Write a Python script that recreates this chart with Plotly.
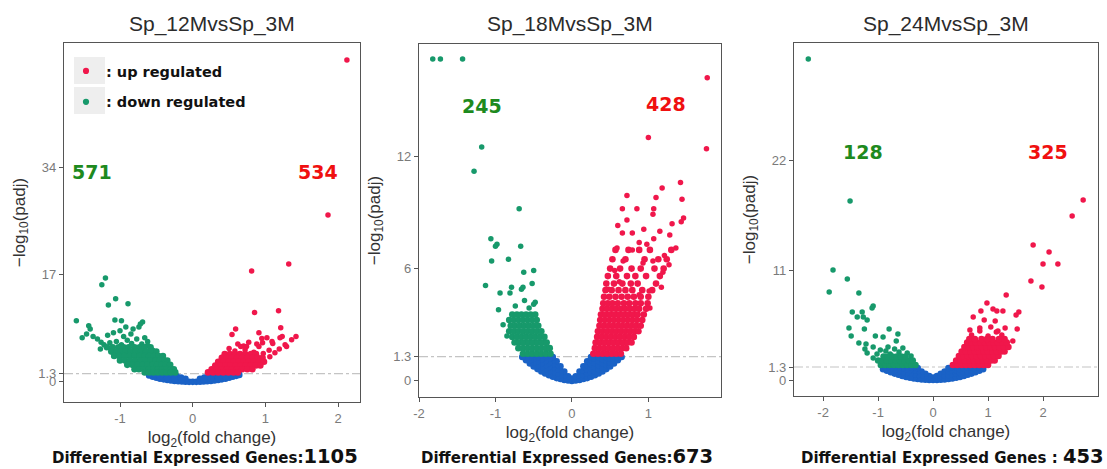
import plotly.graph_objects as go

W, H = 1107, 469

titles = ["Sp_12MvsSp_3M", "Sp_18MvsSp_3M", "Sp_24MvsSp_3M"]
deg_labels = ["Differential Expressed Genes:", "Differential Expressed Genes:", "Differential Expressed Genes : "]
deg_totals = [1105, 673, 453]
down_counts = [571, 245, 128]
up_counts = [534, 428, 325]
threshold = 1.3
xticks = [[-1, 0, 1, 2], [-2, -1, 0, 1], [-2, -1, 0, 1, 2]]
yticks = [[0, 1.3, 17, 34], [0, 1.3, 6, 12], [0, 1.3, 11, 22]]
xranges = [[-1.77, 2.30], [-2.0, 1.95], [-2.53, 3.0]]
yranges = [[-3.2, 53.8], [-0.86, 18.0], [-1.6, 33.7]]

# ---------- Panel 1 : Sp_12M vs Sp_3M ----------
p1_up_pts = [(2.12, 51.1), (1.86, 26.5), (1.32, 18.7), (0.81, 17.6), (1.18, 11.3), (0.85, 11.0),
             (0.59, 8.4), (1.21, 8.6), (1.42, 7.2), (1.23, 7.2), (1.36, 6.7), (0.54, 7.5), (0.91, 7.8),
             (1.02, 7.0), (0.95, 6.9), (0.77, 6.3), (0.88, 6.0), (1.10, 6.1), (1.19, 5.2), (1.29, 5.6),
             (0.70, 5.7), (1.05, 5.0), (0.97, 4.5), (1.20, 7.0), (1.27, 5.9), (1.06, 4.0), (0.91, 5.6),
             (0.74, 5.6), (0.96, 6.2), (1.09, 6.4), (1.13, 4.6), (0.62, 6.0),
             (0.50, 5.3), (0.58, 4.9), (0.66, 5.6), (0.72, 5.1), (0.84, 4.7)]
p1_up_rows = [(4.4, [0.44, 0.51, 0.58, 0.65, 0.72, 0.80, 0.87]),
              (3.8, [0.40, 0.47, 0.54, 0.61, 0.68, 0.75, 0.82, 0.89, 0.96]),
              (3.2, [0.35, 0.42, 0.49, 0.56, 0.63, 0.70, 0.77, 0.84, 0.91, 0.98]),
              (2.6, [0.31, 0.38, 0.45, 0.52, 0.59, 0.66, 0.73, 0.80, 0.87, 0.93]),
              (2.0, [0.26, 0.33, 0.40, 0.47, 0.54, 0.61, 0.68, 0.75, 0.82]),
              (1.5, [0.21, 0.28, 0.35, 0.42, 0.49, 0.56, 0.62])]
p1_down_pts = [(-1.20, 16.5), (-1.25, 15.4), (-1.06, 13.2), (-0.89, 12.4), (-1.16, 12.2), (-1.60, 9.7),
               (-1.43, 8.9), (-1.46, 7.6), (-1.07, 9.8), (-0.98, 9.7), (-0.69, 9.5), (-0.74, 8.7),
               (-0.92, 8.7), (-0.82, 8.4), (-0.72, 9.2), (-1.41, 8.4), (-1.37, 7.2), (-1.31, 6.8),
               (-1.26, 6.3), (-1.17, 7.4), (-1.09, 7.8), (-1.00, 8.1), (-0.95, 7.2), (-0.85, 7.6),
               (-0.66, 7.0), (-0.62, 6.4), (-1.52, 7.0), (-1.22, 5.9), (-1.14, 6.2),
               (-1.05, 6.4), (-0.98, 5.9), (-0.90, 6.6), (-0.84, 6.1), (-0.77, 6.8), (-0.70, 6.0),
               (-0.62, 5.8), (-0.55, 5.0), (-1.27, 5.2)]
p1_down_rows = [(5.5, [-1.18, -1.10, -1.02, -0.95, -0.88, -0.80, -0.73, -0.66, -0.58]),
                (4.8, [-1.12, -1.05, -0.99, -0.92, -0.85, -0.78, -0.71, -0.64, -0.57, -0.50]),
                (4.1, [-1.08, -1.01, -0.94, -0.87, -0.80, -0.73, -0.66, -0.60, -0.53, -0.47, -0.41]),
                (3.4, [-1.00, -0.93, -0.86, -0.79, -0.72, -0.65, -0.58, -0.51, -0.45, -0.39, -0.35]),
                (2.7, [-0.90, -0.83, -0.76, -0.69, -0.62, -0.55, -0.49, -0.43, -0.37, -0.31]),
                (2.0, [-0.80, -0.74, -0.67, -0.60, -0.54, -0.48, -0.42, -0.36, -0.30, -0.26]),
                (1.5, [-0.66, -0.60, -0.54, -0.48, -0.42, -0.36, -0.30, -0.24])]
p1_ns_pts = [(-0.60, 1.0), (-0.55, 0.8), (-0.50, 0.65), (-0.45, 0.5), (-0.40, 0.4), (-0.35, 0.3),
             (-0.30, 0.22), (-0.25, 0.15), (-0.20, 0.1), (-0.15, 0.05), (-0.10, 0.02), (-0.05, 0.0),
             (0.0, 0.0), (0.05, 0.0), (0.10, 0.02), (0.15, 0.05), (0.20, 0.1), (0.25, 0.15), (0.30, 0.22),
             (0.35, 0.3), (0.40, 0.4), (0.45, 0.5), (0.50, 0.65), (0.55, 0.8), (0.60, 0.95), (0.64, 1.1),
             (-0.58, 1.25), (-0.52, 1.2), (-0.46, 1.15), (-0.40, 1.1), (-0.34, 1.05), (-0.28, 1.0),
             (-0.22, 0.9), (-0.16, 0.7), (-0.10, 0.5), (0.10, 0.5), (0.16, 0.7), (0.22, 0.9), (0.28, 1.0),
             (0.34, 1.05), (0.40, 1.1), (0.46, 1.15), (0.52, 1.2), (0.58, 1.25), (0.63, 1.28),
             (-0.45, 0.85), (-0.35, 0.7), (-0.25, 0.55), (-0.15, 0.35), (0.15, 0.35), (0.25, 0.55),
             (0.35, 0.7), (0.45, 0.85), (0.55, 1.0)]

# ---------- Panel 2 : Sp_18M vs Sp_3M ----------
p2_up_pts = [(1.77, 16.2), (1.00, 13.0), (1.76, 12.4), (1.42, 10.6), (1.18, 10.3), (0.72, 9.9),
             (1.10, 9.8), (1.44, 9.7), (0.66, 9.2), (0.85, 9.2), (1.07, 9.2), (1.06, 8.9), (1.31, 8.4),
             (1.46, 8.7), (1.43, 8.5), (0.60, 8.3), (0.66, 7.9), (0.79, 7.9), (1.28, 7.8), (1.36, 7.1),
             (1.07, 7.6), (0.98, 7.3), (0.88, 7.4), (0.59, 7.1), (0.79, 7.0), (1.21, 6.7), (1.27, 6.2),
             (1.06, 6.4), (0.93, 6.3), (1.19, 5.8), (0.67, 6.4), (0.56, 5.9), (0.62, 5.3), (0.48, 4.9),
             (1.01, 4.8), (1.17, 5.0), (0.88, 4.6), (1.02, 3.9), (0.94, 8.1), (1.15, 8.0), (0.72, 8.6)]
p2_up_rows = [(1.45, [0.28, 0.34, 0.40, 0.46, 0.52, 0.58, 0.64]),
              (1.75, [0.30, 0.36, 0.42, 0.48, 0.54, 0.60, 0.66, 0.71]),
              (2.05, [0.31, 0.37, 0.43, 0.49, 0.55, 0.61, 0.67, 0.73, 0.78]),
              (2.35, [0.33, 0.39, 0.45, 0.51, 0.57, 0.63, 0.69, 0.75, 0.81]),
              (2.65, [0.34, 0.40, 0.46, 0.52, 0.58, 0.64, 0.70, 0.76, 0.82, 0.87]),
              (2.95, [0.36, 0.42, 0.48, 0.54, 0.60, 0.66, 0.72, 0.78, 0.84, 0.90]),
              (3.25, [0.37, 0.43, 0.49, 0.55, 0.61, 0.67, 0.73, 0.79, 0.85, 0.92]),
              (3.55, [0.38, 0.44, 0.50, 0.56, 0.62, 0.68, 0.74, 0.80, 0.86, 0.94]),
              (3.85, [0.40, 0.46, 0.52, 0.58, 0.64, 0.70, 0.76, 0.82, 0.88, 0.97]),
              (4.15, [0.41, 0.47, 0.53, 0.60, 0.68, 0.75, 0.83, 0.90, 0.99]),
              (4.5, [0.42, 0.49, 0.57, 0.65, 0.73, 0.81, 0.90, 1.00]),
              (4.85, [0.44, 0.52, 0.61, 0.70, 0.79, 0.92, 1.05]),
              (5.2, [0.45, 0.55, 0.66, 0.77, 0.86, 1.10]),
              (5.6, [0.47, 0.58, 0.72, 0.83, 0.97, 1.15]),
              (6.0, [0.50, 0.63, 0.78, 0.90, 1.08, 1.20]),
              (6.5, [0.53, 0.70, 0.95, 1.13, 1.24]),
              (7.0, [0.57, 0.74, 0.88, 1.02, 1.30])]
p2_down_pts = [(-1.82, 17.2), (-1.72, 17.2), (-1.43, 17.2), (-1.18, 12.5), (-1.28, 11.2), (-0.69, 9.2),
               (-1.06, 7.6), (-0.98, 7.3), (-1.00, 7.2), (-0.67, 7.2), (-1.05, 6.4), (-0.83, 6.5),
               (-0.63, 5.8), (-0.50, 5.9), (-1.13, 5.1), (-0.52, 5.2), (-0.79, 5.0), (-0.66, 4.9),
               (-0.64, 5.0), (-0.94, 4.7), (-0.81, 4.7), (-0.48, 4.2), (-0.96, 3.8), (-0.90, 3.0),
               (-0.85, 2.4), (-0.74, 4.0), (-0.62, 4.3), (-0.56, 3.9), (-0.50, 4.1)]
p2_down_rows = [(1.45, [-0.64, -0.58, -0.52, -0.46, -0.40, -0.34, -0.28]),
                (1.75, [-0.70, -0.64, -0.58, -0.52, -0.46, -0.40, -0.34, -0.29]),
                (2.05, [-0.75, -0.69, -0.63, -0.57, -0.51, -0.45, -0.39, -0.33]),
                (2.35, [-0.78, -0.72, -0.66, -0.60, -0.54, -0.48, -0.42, -0.36]),
                (2.65, [-0.82, -0.76, -0.70, -0.64, -0.58, -0.52, -0.46, -0.40]),
                (2.95, [-0.80, -0.74, -0.68, -0.62, -0.56, -0.50, -0.44]),
                (3.25, [-0.82, -0.76, -0.70, -0.64, -0.58, -0.52, -0.46]),
                (3.55, [-0.78, -0.72, -0.66, -0.60, -0.54, -0.48])]
p2_ns_cols = [(0.0, [0.0, 0.12]), (0.05, [0.02, 0.25]), (0.10, [0.05, 0.28, 0.5]),
              (0.15, [0.1, 0.32, 0.55, 0.78]), (0.20, [0.15, 0.38, 0.6, 0.83, 1.05]),
              (0.25, [0.22, 0.45, 0.68, 0.9, 1.12, 1.28]), (0.30, [0.3, 0.52, 0.74, 0.96, 1.18]),
              (0.35, [0.4, 0.62, 0.84, 1.06, 1.26]), (0.40, [0.5, 0.72, 0.94, 1.16]),
              (0.45, [0.63, 0.85, 1.07, 1.27]), (0.50, [0.77, 0.98, 1.2]), (0.55, [0.93, 1.12, 1.28]),
              (0.60, [1.1, 1.27]), (0.65, [1.28]),
              (-0.05, [0.02, 0.25]), (-0.10, [0.05, 0.28, 0.5]),
              (-0.15, [0.1, 0.32, 0.55, 0.78]), (-0.20, [0.15, 0.38, 0.6, 0.83, 1.05]),
              (-0.25, [0.22, 0.45, 0.68, 0.9, 1.12, 1.28]), (-0.30, [0.3, 0.52, 0.74, 0.96, 1.18]),
              (-0.35, [0.4, 0.62, 0.84, 1.06, 1.26]), (-0.40, [0.5, 0.72, 0.94, 1.16]),
              (-0.45, [0.63, 0.85, 1.07, 1.27]), (-0.50, [0.77, 0.98, 1.2]), (-0.55, [0.93, 1.12, 1.28]),
              (-0.60, [1.1, 1.27]), (-0.65, [1.28])]

# ---------- Panel 3 : Sp_24M vs Sp_3M ----------
p3_up_pts = [(2.73, 18.0), (2.53, 16.4), (1.82, 13.5), (2.11, 12.8), (2.27, 11.6), (2.00, 11.6),
             (1.78, 9.9), (1.98, 9.3), (1.33, 8.5), (0.98, 7.7), (1.09, 7.1), (1.27, 6.9), (1.16, 6.9),
             (1.56, 6.8), (1.51, 6.5), (0.87, 6.9), (0.73, 6.3), (0.93, 6.0), (1.13, 5.9), (1.53, 5.1),
             (0.67, 5.0), (1.31, 5.2), (1.18, 4.9), (1.05, 5.3), (0.85, 5.2),
             (0.70, 4.5), (0.85, 4.9), (1.00, 4.4), (1.15, 4.8), (1.25, 4.5), (1.45, 3.9)]
p3_up_rows = [(1.5, [0.36, 0.44, 0.52, 0.60, 0.68, 0.76, 0.84, 0.92, 1.00]),
              (1.95, [0.42, 0.50, 0.58, 0.66, 0.74, 0.82, 0.90, 0.98, 1.06, 1.12]),
              (2.4, [0.47, 0.55, 0.63, 0.71, 0.79, 0.87, 0.95, 1.03, 1.11, 1.19]),
              (2.85, [0.52, 0.60, 0.68, 0.76, 0.84, 0.92, 1.00, 1.08, 1.16, 1.24, 1.30]),
              (3.3, [0.57, 0.65, 0.73, 0.81, 0.89, 0.97, 1.05, 1.13, 1.21, 1.29, 1.37]),
              (3.75, [0.62, 0.70, 0.78, 0.86, 0.94, 1.02, 1.10, 1.18, 1.26, 1.34]),
              (4.1, [0.66, 0.76, 0.88, 0.98, 1.08, 1.20, 1.30])]
p3_down_pts = [(-2.27, 32.1), (-1.51, 17.9), (-1.82, 11.0), (-1.56, 10.1), (-1.89, 8.8), (-1.35, 8.7),
               (-1.09, 7.4), (-1.11, 7.2), (-1.47, 6.8), (-1.29, 6.8), (-1.38, 6.3), (-1.27, 6.3),
               (-1.20, 6.0), (-1.53, 5.2), (-1.25, 5.1), (-0.80, 5.1), (-1.49, 4.4), (-1.05, 4.4),
               (-0.91, 4.3), (-0.64, 4.6), (-0.67, 3.9), (-1.35, 3.7), (-1.22, 3.6), (-1.09, 3.3),
               (-1.24, 3.1), (-1.20, 2.7), (-1.09, 2.2),
               (-0.86, 2.9), (-0.78, 2.6), (-0.70, 3.1), (-0.62, 2.8), (-0.55, 3.2), (-0.47, 2.7),
               (-0.40, 2.4), (-1.02, 2.6), (-0.96, 3.0), (-0.82, 3.3)]
p3_down_rows = [(1.5, [-0.95, -0.87, -0.79, -0.71, -0.63, -0.55, -0.47, -0.39, -0.32]),
                (1.95, [-1.00, -0.92, -0.84, -0.76, -0.68, -0.60, -0.52, -0.44, -0.37]),
                (2.35, [-0.90, -0.82, -0.74, -0.66, -0.58, -0.50])]
p3_ns_cols = [(0.0, [0.0, 0.25]), (0.07, [0.01, 0.4]), (0.14, [0.03, 0.4, 0.62]),
              (0.21, [0.06, 0.45, 0.85]), (0.28, [0.1, 0.5, 0.9, 1.2]), (0.35, [0.16, 0.56, 0.96, 1.28]),
              (0.42, [0.23, 0.62, 1.0, 1.28]), (0.49, [0.31, 0.7, 1.08]), (0.56, [0.41, 0.78, 1.15]),
              (0.63, [0.52, 0.88, 1.25]), (0.70, [0.64, 0.98, 1.28]), (0.77, [0.77, 1.1]),
              (0.84, [0.92, 1.22]), (0.91, [1.08, 1.28]),
              (-0.07, [0.01, 0.4]), (-0.14, [0.03, 0.4, 0.62]),
              (-0.21, [0.06, 0.45, 0.85]), (-0.28, [0.1, 0.5, 0.9, 1.2]), (-0.35, [0.16, 0.56, 0.96, 1.28]),
              (-0.42, [0.23, 0.62, 1.0, 1.28]), (-0.49, [0.31, 0.7, 1.08]), (-0.56, [0.41, 0.78, 1.15]),
              (-0.63, [0.52, 0.88, 1.25]), (-0.70, [0.64, 0.98, 1.28]), (-0.77, [0.77, 1.1]),
              (-0.84, [0.92, 1.22]), (-0.91, [1.08, 1.28])]

OUT_SIZE = 5.5   # individually placed genes
CLOUD_SIZE = 6.6  # genes in the dense part of each cloud


def from_rows(rows):
    xs, ys = [], []
    for y, xl in rows:
        for x in xl:
            xs.append(x)
            ys.append(y)
    return xs, ys, [CLOUD_SIZE] * len(xs)


def from_cols(cols):
    xs, ys = [], []
    for x, yl in cols:
        for y in yl:
            xs.append(x)
            ys.append(y)
    return xs, ys, [CLOUD_SIZE] * len(xs)


def from_pts(pts, size=OUT_SIZE):
    return [p[0] for p in pts], [p[1] for p in pts], [size] * len(pts)


def merge(a, b):
    return a[0] + b[0], a[1] + b[1], a[2] + b[2]


panels = [
    dict(ns=from_pts(p1_ns_pts, CLOUD_SIZE), down=merge(from_pts(p1_down_pts), from_rows(p1_down_rows)),
         up=merge(from_pts(p1_up_pts), from_rows(p1_up_rows))),
    dict(ns=from_cols(p2_ns_cols), down=merge(from_pts(p2_down_pts), from_rows(p2_down_rows)),
         up=merge(from_pts(p2_up_pts), from_rows(p2_up_rows))),
    dict(ns=from_cols(p3_ns_cols), down=merge(from_pts(p3_down_pts), from_rows(p3_down_rows)),
         up=merge(from_pts(p3_up_pts), from_rows(p3_up_rows))),
]

RED = "#F0174B"
GREEN = "#17996B"
BLUE = "#1A62C6"

# plot-area pixel boxes (left, right, top, bottom)
boxes = [(64, 360, 43, 402), (419, 721, 44, 397), (794, 1098, 43, 396)]

fig = go.Figure()
layout = dict(width=W, height=H, margin=dict(l=0, r=0, t=0, b=0, autoexpand=False),
              paper_bgcolor="white", plot_bgcolor="white",
              font=dict(family="Liberation Sans, Arial", color="#333333"))
annotations = []
shapes = []


def mk(color, sizes):
    return dict(color=color, size=sizes, opacity=1, line=dict(width=0))


for i, p in enumerate(panels):
    ax = "" if i == 0 else str(i + 1)
    xa, ya = "x" + ax, "y" + ax
    fig.add_trace(go.Scatter(x=p["ns"][0], y=p["ns"][1], mode="markers", xaxis=xa, yaxis=ya,
                             marker=mk(BLUE, p["ns"][2]), showlegend=False, hoverinfo="skip"))
    fig.add_trace(go.Scatter(x=p["down"][0], y=p["down"][1], mode="markers", xaxis=xa, yaxis=ya,
                             marker=mk(GREEN, p["down"][2]), name="<b>: down regulated</b>",
                             legendrank=2, legendgroup="down", showlegend=(i == 0)))
    fig.add_trace(go.Scatter(x=p["up"][0], y=p["up"][1], mode="markers", xaxis=xa, yaxis=ya,
                             marker=mk(RED, p["up"][2]), name="<b>: up regulated</b>",
                             legendrank=1, legendgroup="up", showlegend=(i == 0)))
    l, r, t, b = boxes[i]
    dom_x = [l / W, r / W]
    dom_y = [1 - b / H, 1 - t / H]
    axis_common = dict(showgrid=False, zeroline=False, showline=True, mirror=True, automargin=False,
                       linecolor="#555555", linewidth=1.3, ticks="outside", ticklen=4,
                       tickcolor="#555555", tickfont=dict(size=13, color="#7a7a7a"))
    layout["xaxis" + ax] = dict(domain=dom_x, range=xranges[i], tickvals=xticks[i],
                                ticktext=[str(v) for v in xticks[i]], anchor=ya,
                                title=dict(text="log<sub>2</sub>(fold change)", font=dict(size=17, color="#333333"),
                                           standoff=6), **axis_common)
    layout["yaxis" + ax] = dict(domain=dom_y, range=yranges[i], tickvals=yticks[i],
                                ticktext=[str(v) for v in yticks[i]], anchor=xa,
                                title=dict(text="\u2212log<sub>10</sub>(padj)", font=dict(size=17, color="#333333"),
                                           standoff=8), **axis_common)
    shapes.append(dict(type="line", xref=xa + " domain", x0=0, x1=1, yref=ya, y0=threshold, y1=threshold,
                       line=dict(color="#c4c4c4", width=1.2, dash="dashdot"), layer="below"))
    cx = (l + r) / 2 / W
    annotations.append(dict(text=titles[i], xref="paper", yref="paper", x=cx, y=1 - 24 / H,
                            showarrow=False, font=dict(size=21, color="#2b2b2b"), xanchor="center", yanchor="middle"))
    annotations.append(dict(
        text="<b>%s</b><b><span style='font-size:19.5px'>%d</span></b>" % (deg_labels[i], deg_totals[i]),
        xref="paper", yref="paper", x=[205, 567, 952][i] / W, y=1 - 456 / H, showarrow=False,
        font=dict(size=15, color="#111111", family="DejaVu Sans"), xanchor="center", yanchor="middle"))
    dpos = [(92, 172), (482, 106), (863, 152)][i]
    upos = [(318, 172), (666, 104), (1048, 152)][i]
    annotations.append(dict(text="<b>%d</b>" % down_counts[i], xref="paper", yref="paper",
                            x=dpos[0] / W, y=1 - dpos[1] / H, showarrow=False,
                            font=dict(size=19, color="#1E8A1E", family="DejaVu Sans"),
                            xanchor="center", yanchor="middle"))
    annotations.append(dict(text="<b>%d</b>" % up_counts[i], xref="paper", yref="paper",
                            x=upos[0] / W, y=1 - upos[1] / H, showarrow=False,
                            font=dict(size=19, color="#F01010", family="DejaVu Sans"),
                            xanchor="center", yanchor="middle"))

# legend key background boxes (panel 1)
for y0, y1 in [(57, 84), (87, 114)]:
    shapes.append(dict(type="rect", xref="paper", yref="paper", x0=74 / W, x1=105 / W,
                       y0=1 - y1 / H, y1=1 - y0 / H, fillcolor="#eeeeee", line=dict(width=0), layer="below"))

layout["shapes"] = shapes
layout["annotations"] = annotations
layout["legend"] = dict(x=66 / W, y=1 - 55 / H, xanchor="left", yanchor="top", bgcolor="rgba(0,0,0,0)",
                        font=dict(size=14.5, color="#111111", family="DejaVu Sans"),
                        tracegroupgap=9, itemsizing="trace")
fig.update_layout(**layout)
# the page's default 8px body margin would shift the whole figure; remove it
fig.write_html("out.html", config={"displayModeBar": False},
               post_script="document.body.style.margin='0px';")
